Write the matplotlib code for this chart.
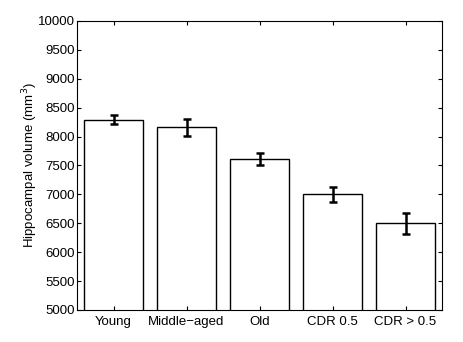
import matplotlib
matplotlib.use("Agg")
import matplotlib.pyplot as plt

categories = ["Young", "Middle\u2212aged", "Old", "CDR 0.5", "CDR > 0.5"]
volumes = [8290, 8160, 7605, 7000, 6500]
errors = [75, 150, 105, 130, 185]

plt.rcParams['font.family'] = ['Liberation Sans', 'DejaVu Sans']
fig = plt.figure(figsize=(4.64, 3.42), dpi=100)
ax = fig.add_axes([0.166, 0.0936, 0.7866, 0.845])
x = list(range(1, len(categories) + 1))
ax.bar(x, volumes, width=0.8, color='white', edgecolor='black', linewidth=1.0)
ax.errorbar(x, volumes, yerr=errors, fmt='none', ecolor='black', elinewidth=1.8,
            capsize=3, capthick=1.8)
ax.set_xlim(0.5, 5.5)
ax.set_ylim(5000, 10000)
ax.set_yticks(range(5000, 10001, 500))
ax.set_xticks(x)
ax.set_xticklabels(categories)
ax.tick_params(direction='in', top=True, right=True, labelsize=9.5, length=3, width=0.8)
ax.tick_params(axis='y', pad=1.5)
ax.tick_params(axis='x', pad=4)
ax.set_ylabel("Hippocampal volume (mm$^3$)", fontsize=9.5, labelpad=-1.5)
for s in ax.spines.values():
    s.set_linewidth(0.8)
fig.savefig("out.png", dpi=100)
